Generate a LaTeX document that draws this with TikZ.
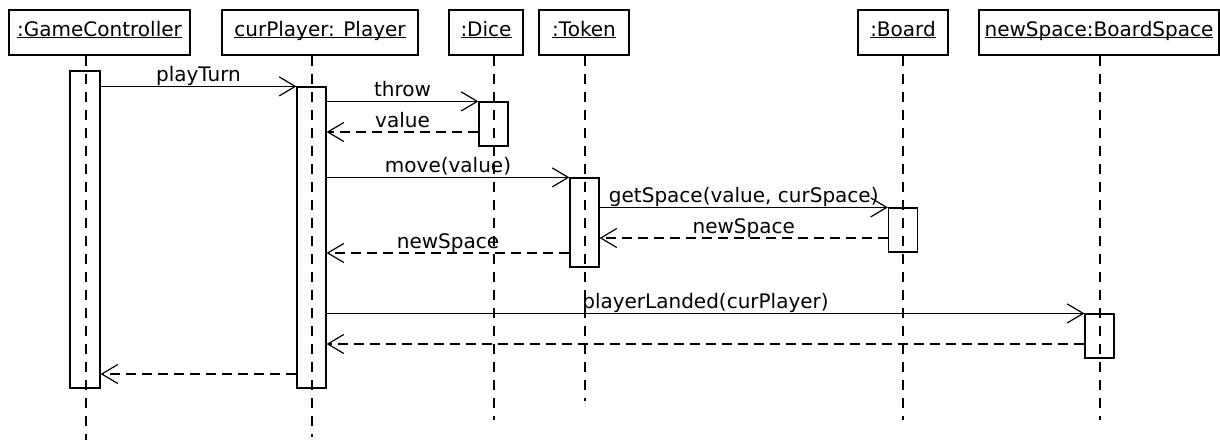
\documentclass[tikz,border=0pt]{standalone}
\usepackage{fontspec}
\setmainfont{DejaVu Sans}
\usetikzlibrary{arrows.meta}
\newcommand{\objname}[1]{\underline{\smash{#1}}}

\begin{document}
\begin{tikzpicture}[x=1pt,y=-1pt,line width=1.2pt,
  font=\fontsize{20}{24}\selectfont,
  obj/.style={draw,minimum height=45pt,inner sep=0pt,text height=14pt,text depth=7pt},
  bar/.style={draw,minimum width=29pt,inner sep=0pt},
  life/.style={dash pattern=on 10pt off 8pt},
  call/.style={-{Straight Barb[length=16pt,width=19pt]}},
  ret/.style={dash pattern=on 10pt off 6pt,-{Straight Barb[length=16pt,width=19pt]}},
  lbl/.style={midway,anchor=base,yshift=5pt,inner sep=0pt}]
\useasboundingbox (0,0) rectangle (1220,440);

% objects
\node[obj,minimum width=181pt] (gc) at (99.5,32.5) {\objname{:GameController}};
\node[obj,minimum width=196pt] (cp) at (320,32.5) {\objname{curPlayer: Player}};
\node[obj,minimum width=74pt] (dice) at (486,32.5) {\objname{:Dice}};
\node[obj,minimum width=90pt] (tok) at (584,32.5) {\objname{:Token}};
\node[obj,minimum width=90pt] (brd) at (903,32.5) {\objname{:Board}};
\node[obj,minimum width=240pt] (ns) at (1099,32.5) {\objname{newSpace:BoardSpace}};

% lifelines
\coordinate (gcend) at (86,440);
\coordinate (cpend) at (312,437);
\coordinate (diceend) at (494,420);
\coordinate (tokend) at (585,401);
\coordinate (brdend) at (903,420);
\coordinate (nsend) at (1100,420);
\draw[life] (gc.south -| gcend) -- (gcend);
\draw[life] (cp.south -| cpend) -- (cpend);
\draw[life] (dice.south -| diceend) -- (diceend);
\draw[life] (tok.south -| tokend) -- (tokend);
\draw[life] (brd.south -| brdend) -- (brdend);
\draw[life] (ns.south -| nsend) -- (nsend);

% activations
\node[bar,minimum width=30pt,minimum height=317pt] (gcbar) at (85,229.5) {};
\node[bar,minimum height=301pt] (cpbar) at (311.5,237.5) {};
\node[bar,minimum height=44pt] (dicebar) at (493.5,124) {};
\node[bar,minimum height=89pt] (tokbar) at (584.5,222.5) {};
\node[bar,minimum height=44pt] (brdbar) at (903,230) {};
\node[bar,minimum height=44pt] (nsbar) at (1099.5,336) {};

% messages
\draw[call] (gcbar.east |- cpbar.north) -- (cpbar.north west) node[lbl] {playTurn};
\draw[call] (cpbar.east |- dicebar.north) -- (dicebar.north west) node[lbl] {throw};
\draw[ret] (dicebar.west |- 0,132) -- (cpbar.east |- 0,132) node[lbl] {value};
\draw[call] (cpbar.east |- tokbar.north) -- (tokbar.north west) node[lbl] {move(value)};
\draw[call] (tokbar.east |- brdbar.north) -- (brdbar.north west) node[lbl] {getSpace(value, curSpace)};
\draw[ret] (brdbar.west |- 0,238) -- (tokbar.east |- 0,238) node[lbl] {newSpace};
\draw[ret] (tokbar.west |- 0,253) -- (cpbar.east |- 0,253) node[lbl] {newSpace};
\draw[call] (cpbar.east |- nsbar.north) -- (nsbar.north west) node[lbl] {playerLanded(curPlayer)};
\draw[ret] (nsbar.west |- 0,344) -- (cpbar.east |- 0,344);
\draw[ret] (cpbar.west |- 0,374) -- (gcbar.east |- 0,374);
\end{tikzpicture}
\end{document}
